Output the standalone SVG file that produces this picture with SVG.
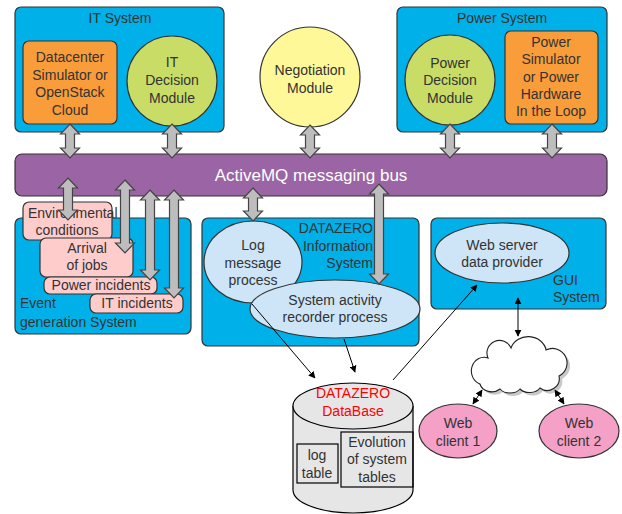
<svg xmlns="http://www.w3.org/2000/svg" width="622" height="514" viewBox="0 0 622 514">
<style>
text{font-family:"Liberation Sans",Arial,sans-serif;font-size:14px;fill:#333;}
.c{text-anchor:middle;}
.sys{fill:#00b0e8;stroke:#333;stroke-width:1.2;}
.org{fill:#f99d3b;stroke:#333;stroke-width:1.2;}
.grn{fill:#c8dc66;stroke:#333;stroke-width:1.2;}
.pk{fill:#ffcccc;stroke:#333;stroke-width:1.2;}
.lb{fill:#cde5f7;stroke:#333;stroke-width:1.2;}
.wc{fill:#f4a0c7;stroke:#333;stroke-width:1.2;}
.ba{fill:#bdbdbd;stroke:#444;stroke-width:1.2;}
.ln{fill:none;stroke:#000;stroke-width:1;}
</style>
<defs>
<marker id="ah" viewBox="0 0 10 10" refX="9" refY="5" markerWidth="7" markerHeight="7" orient="auto-start-reverse" markerUnits="userSpaceOnUse">
<path d="M0,0 L10,5 L0,10 z" fill="#000"/>
</marker>
<path id="cloudshape" d="M480,384 A12,13 0 0 1 488,358 A12,12 0 0 1 511,348 A18,16 0 0 1 546,350 A13,13 0 0 1 559,376 A12,12 0 0 1 540,388 A12,9 0 0 1 520,389 A12,9 0 0 1 500,389 A12,10 0 0 1 480,384 Z"/>
</defs>
<rect width="622" height="514" fill="#fff"/>

<g id="it-system">
<rect class="sys" x="15" y="7" width="209" height="125" rx="6"/>
<text class="c" x="120" y="23">IT System</text>
</g>
<g id="datacenter">
<rect class="org" x="23" y="41" width="94" height="83" rx="6"/>
<text class="c" x="70" y="62">Datacenter</text>
<text class="c" x="70" y="79.5">Simulator or</text>
<text class="c" x="70" y="97">OpenStack</text>
<text class="c" x="70" y="114.5">Cloud</text>
</g>
<g id="it-decision">
<circle class="grn" cx="172" cy="81" r="45"/>
<text class="c" x="172" y="67">IT</text>
<text class="c" x="172" y="85">Decision</text>
<text class="c" x="172" y="103">Module</text>
</g>
<g id="negotiation">
<circle cx="310" cy="77" r="50" fill="#fef898" stroke="#333" stroke-width="1.2"/>
<text class="c" x="310" y="75">Negotiation</text>
<text class="c" x="310" y="93">Module</text>
</g>
<g id="power-system">
<rect class="sys" x="397" y="7" width="210" height="125" rx="6"/>
<text class="c" x="502" y="23">Power System</text>
</g>
<g id="power-decision">
<circle class="grn" cx="450" cy="80" r="45"/>
<text class="c" x="450" y="68">Power</text>
<text class="c" x="450" y="85">Decision</text>
<text class="c" x="450" y="103">Module</text>
</g>
<g id="power-simulator">
<rect class="org" x="505" y="31" width="93" height="93" rx="6"/>
<text class="c" x="551" y="47">Power</text>
<text class="c" x="551" y="64">Simulator</text>
<text class="c" x="551" y="82">or Power</text>
<text class="c" x="551" y="99">Hardware</text>
<text class="c" x="551" y="116">In the Loop</text>
</g>
<g id="bus">
<rect x="15" y="154" width="592" height="42" rx="7" fill="#9b64a4" stroke="#333" stroke-width="1.2"/>
<text class="c" x="311" y="181" style="fill:#fff;font-size:17px">ActiveMQ messaging bus</text>
</g>

<g id="event-generation">
<rect class="sys" x="15" y="218" width="176" height="116" rx="6"/>
<text x="20" y="308">Event</text>
<text x="20" y="327">generation System</text>
</g>
<g id="environmental">
<rect class="pk" x="23" y="202" width="89" height="38" rx="6"/>
<text x="28" y="218">Environmental</text>
<text class="c" x="67" y="235">conditions</text>
</g>
<g id="arrival">
<rect class="pk" x="40" y="238" width="93" height="39" rx="6"/>
<text class="c" x="87" y="253">Arrival</text>
<text class="c" x="87" y="270">of jobs</text>
</g>
<g id="power-incidents">
<rect class="pk" x="44" y="277" width="113" height="17" rx="6"/>
<text class="c" x="101" y="290">Power incidents</text>
</g>
<g id="it-incidents">
<rect class="pk" x="90" y="294" width="93" height="19" rx="6"/>
<text class="c" x="137" y="308">IT incidents</text>
</g>

<g id="datazero-is">
<rect class="sys" x="202" y="218" width="217" height="128" rx="6"/>
<text x="373" y="233" text-anchor="end">DATAZERO</text>
<text x="373" y="251" text-anchor="end">Information</text>
<text x="373" y="268" text-anchor="end">System</text>
</g>
<g id="log-message">
<ellipse class="lb" cx="253" cy="262" rx="49" ry="41"/>
<text class="c" x="253" y="250">Log</text>
<text class="c" x="253" y="268">message</text>
<text class="c" x="253" y="285">process</text>
</g>
<g id="activity-recorder">
<ellipse class="lb" cx="335" cy="309" rx="85" ry="29"/>
<text class="c" x="335" y="305">System activity</text>
<text class="c" x="335" y="322">recorder process</text>
</g>

<g id="gui-system">
<rect class="sys" x="431" y="218" width="175" height="91" rx="6"/>
<text x="553" y="285">GUI</text>
<text x="553" y="302">System</text>
</g>
<g id="web-server">
<ellipse class="lb" cx="502" cy="253" rx="67" ry="30"/>
<text class="c" x="502" y="250">Web server</text>
<text class="c" x="502" y="267">data provider</text>
</g>

<g id="cloud">
<use href="#cloudshape" transform="translate(3,3)" fill="#c8c8c8" stroke="none"/>
<use href="#cloudshape" fill="#fff" stroke="#222" stroke-width="1.1"/>
</g>
<g id="web-client-1">
<ellipse class="wc" cx="458" cy="431" rx="39" ry="27"/>
<text class="c" x="458" y="428">Web</text>
<text class="c" x="458" y="446">client 1</text>
</g>
<g id="web-client-2">
<ellipse class="wc" cx="579" cy="431" rx="40" ry="27"/>
<text class="c" x="579" y="428">Web</text>
<text class="c" x="579" y="446">client 2</text>
</g>

<g id="database">
<path d="M293,406 L293,490 A60,23 0 0 0 413,490 L413,406" fill="#e6e6e6" stroke="#000" stroke-width="1.2"/>
<ellipse cx="353" cy="406" rx="60" ry="23" fill="#e6e6e6" stroke="#000" stroke-width="1.2"/>
<text class="c" x="353" y="398" style="fill:#ff0000">DATAZERO</text>
<text class="c" x="353" y="416" style="fill:#ff0000">DataBase</text>
<rect x="297" y="444" width="41" height="39" fill="none" stroke="#000" stroke-width="1.2"/>
<text class="c" x="317" y="460">log</text>
<text class="c" x="317" y="478">table</text>
<rect x="341" y="432" width="72" height="55" fill="none" stroke="#000" stroke-width="1.2"/>
<text class="c" x="377" y="447">Evolution</text>
<text class="c" x="377" y="464">of system</text>
<text class="c" x="377" y="482">tables</text>
</g>

<g id="connectors">
<line class="ln" x1="252" y1="304" x2="315" y2="378" marker-end="url(#ah)"/>
<line class="ln" x1="344" y1="339" x2="355" y2="372" marker-end="url(#ah)"/>
<line class="ln" x1="393" y1="380" x2="477" y2="285" marker-end="url(#ah)"/>
<line class="ln" x1="518" y1="298" x2="518" y2="336" marker-start="url(#ah)" marker-end="url(#ah)"/>
<line class="ln" x1="482" y1="390" x2="473" y2="404" marker-start="url(#ah)" marker-end="url(#ah)"/>
<line class="ln" x1="555" y1="390" x2="564" y2="404" marker-start="url(#ah)" marker-end="url(#ah)"/>
<path class="ba" d="M70,124 L79.5,134 L74.5,134 L74.5,148 L79.5,148 L70,158 L60.5,148 L65.5,148 L65.5,134 L60.5,134 Z"/>
<path class="ba" d="M172,124 L181.5,134 L176.5,134 L176.5,148 L181.5,148 L172,158 L162.5,148 L167.5,148 L167.5,134 L162.5,134 Z"/>
<path class="ba" d="M310,125 L319.5,135 L314.5,135 L314.5,148 L319.5,148 L310,158 L300.5,148 L305.5,148 L305.5,135 L300.5,135 Z"/>
<path class="ba" d="M450,124 L459.5,134 L454.5,134 L454.5,148 L459.5,148 L450,158 L440.5,148 L445.5,148 L445.5,134 L440.5,134 Z"/>
<path class="ba" d="M552,124 L561.5,134 L556.5,134 L556.5,148 L561.5,148 L552,158 L542.5,148 L547.5,148 L547.5,134 L542.5,134 Z"/>
<path class="ba" d="M68,178 L77.5,188 L72.5,188 L72.5,210 L77.5,210 L68,220 L58.5,210 L63.5,210 L63.5,188 L58.5,188 Z"/>
<path class="ba" d="M125,180 L134.5,190 L129.5,190 L129.5,243 L134.5,243 L125,253 L115.5,243 L120.5,243 L120.5,190 L115.5,190 Z"/>
<path class="ba" d="M150,190 L159.5,200 L154.5,200 L154.5,270 L159.5,270 L150,280 L140.5,270 L145.5,270 L145.5,200 L140.5,200 Z"/>
<path class="ba" d="M174,190 L183.5,200 L178.5,200 L178.5,288 L183.5,288 L174,298 L164.5,288 L169.5,288 L169.5,200 L164.5,200 Z"/>
<path class="ba" d="M253,188 L262.5,198 L257.5,198 L257.5,211 L262.5,211 L253,221 L243.5,211 L248.5,211 L248.5,198 L243.5,198 Z"/>
<path class="ba" d="M379,184 L388.5,194 L383.5,194 L383.5,274 L388.5,274 L379,284 L369.5,274 L374.5,274 L374.5,194 L369.5,194 Z"/>
</g>
</svg>
